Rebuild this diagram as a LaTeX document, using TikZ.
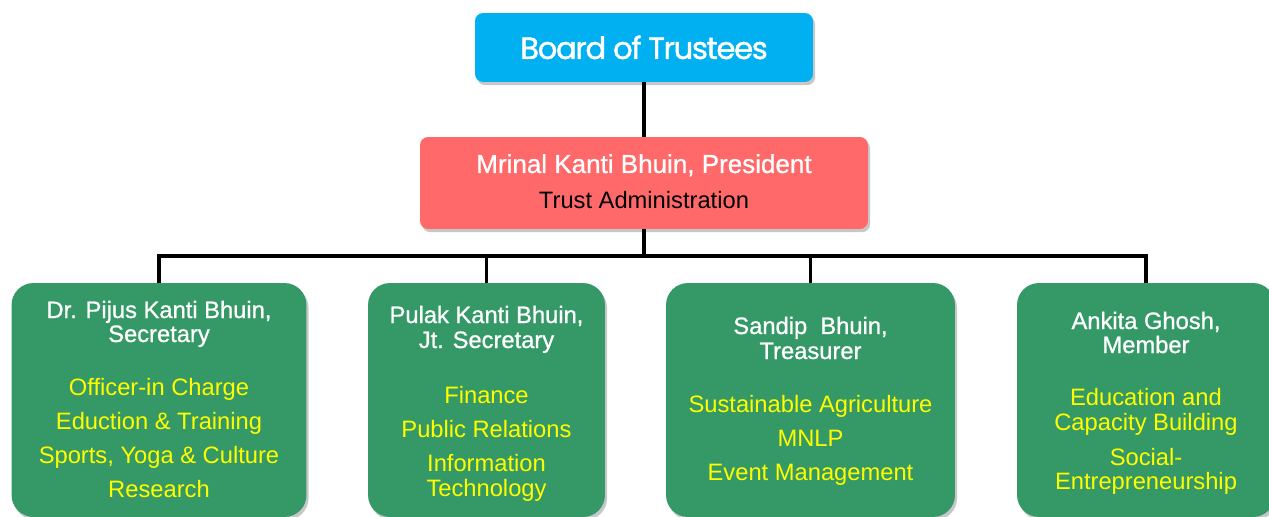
\documentclass[tikz,border=0pt]{standalone}
\usepackage{fontspec}
\setmainfont{Liberation Sans}
\newfontfamily\boardfont[LetterSpace=-4.5,FakeBold=1.2]{Poppins}
\newfontfamily\headfont[FakeBold=0.9]{Liberation Sans}
\usetikzlibrary{shadows}
\definecolor{boardblue}{RGB}{0,176,240}
\definecolor{presred}{RGB}{255,105,105}
\definecolor{boxgreen}{RGB}{52,153,102}
\definecolor{txtyellow}{RGB}{255,255,0}
\tikzset{
  conn/.style={line width=1.8pt, draw=black},
  shad/.style={drop shadow={shadow xshift=1.2pt, shadow yshift=-1.8pt, opacity=0.22, fill=black}},
  topbox/.style={rounded corners=0.16cm, shad, inner sep=0},
  gbox/.style={fill=boxgreen, rounded corners=0.44cm, shad, inner sep=0},
  wtxt/.style={text=white, font=\headfont\fontsize{13.5}{16}\selectfont, inner sep=0, anchor=base},
  ytxt/.style={text=txtyellow, font=\fontsize{13.5}{16}\selectfont, inner sep=0, anchor=base},
}
\begin{document}
\begin{tikzpicture}[x=0.02cm, y=-0.02cm]
\clip (0,0) rectangle (1269,517);
\fill[white] (0,0) rectangle (1269,517);
% top boxes
\node[topbox, fill=boardblue, minimum width=6.76cm, minimum height=1.38cm] (board) at (644,47.5) {};
\node[topbox, fill=presred, minimum width=8.96cm, minimum height=1.84cm] (pres) at (644,183) {};
% green boxes
\node[gbox, minimum width=5.90cm, minimum height=4.68cm] (g1) at (159,400) {};
\node[gbox, minimum width=4.74cm, minimum height=4.68cm] (g2) at (486.5,400) {};
\node[gbox, minimum width=5.78cm, minimum height=4.68cm] (g3) at (810.5,400) {};
\node[gbox, minimum width=5.16cm, minimum height=4.68cm] (g4) at (1146,400) {};
% connectors
\coordinate (hub) at (644,256);
\coordinate (d1) at (159,256);
\coordinate (d2) at (486.5,256);
\coordinate (d3) at (810.5,256);
\coordinate (d4) at (1146,256);
\draw[conn] (board.south) -- (pres.north);
\draw[conn] (pres.south) -- (hub);
\draw[conn, line cap=rect] (d1) -- (d4);
\draw[conn] (d1) -- (g1.north);
\draw[conn] (d2) -- (g2.north);
\draw[conn] (d3) -- (g3.north);
\draw[conn] (d4) -- (g4.north);
% texts
\node[text=white, font=\boardfont\fontsize{17.5}{20}\selectfont, inner sep=0, anchor=base] (tb) at (644,59) {Board of Trustees};
\node[text=white, font=\headfont\fontsize{14.8}{17}\selectfont, inner sep=0, anchor=base] (tp1) at (644,173) {Mrinal Kanti Bhuin, President};
\node[text=black, font=\fontsize{13.5}{16}\selectfont, inner sep=0, anchor=base] (tp2) at (644,209) {Trust Administration};
% box 1
\node[wtxt] (t11) at (159,318) {Dr. Pijus Kanti Bhuin,};
\node[wtxt] (t12) at (159,342) {Secretary};
\node[ytxt] (t13) at (159,395) {Officer-in Charge};
\node[ytxt] (t14) at (159,429) {Eduction \& Training};
\node[ytxt] (t15) at (159,463) {Sports, Yoga \& Culture};
\node[ytxt] (t16) at (159,497) {Research};
% box 2
\node[wtxt] (t21) at (486.5,323) {Pulak Kanti Bhuin,};
\node[wtxt] (t22) at (486.5,348) {Jt. Secretary};
\node[ytxt] (t23) at (486.5,403) {Finance};
\node[ytxt] (t24) at (486.5,437) {Public Relations};
\node[ytxt] (t25) at (486.5,471) {Information};
\node[ytxt] (t26) at (486.5,496) {Technology};
% box 3
\node[wtxt] (t31) at (810.5,334) {Sandip\ \ Bhuin,};
\node[wtxt] (t32) at (810.5,359) {Treasurer};
\node[ytxt] (t33) at (810.5,412) {Sustainable Agriculture};
\node[ytxt] (t34) at (810.5,446) {MNLP};
\node[ytxt] (t35) at (810.5,480) {Event Management};
% box 4
\node[wtxt] (t41) at (1146,329) {Ankita Ghosh,};
\node[wtxt] (t42) at (1146,353) {Member};
\node[ytxt] (t43) at (1146,405) {Education and};
\node[ytxt] (t44) at (1146,430) {Capacity Building};
\node[ytxt] (t45) at (1146,465) {Social-};
\node[ytxt] (t46) at (1146,489) {Entrepreneurship};
\end{tikzpicture}
\end{document}
